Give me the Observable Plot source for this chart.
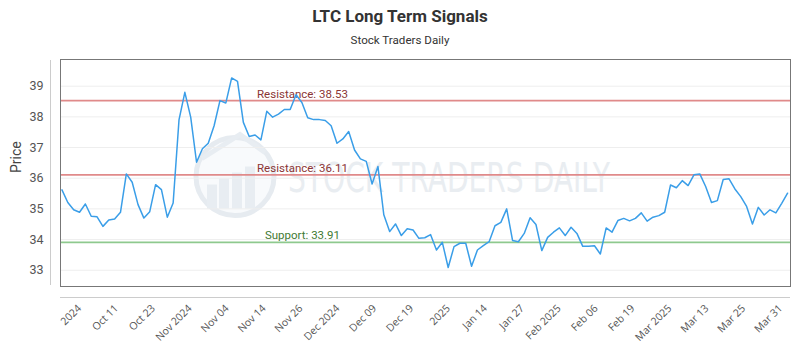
<!DOCTYPE html>
<html>
<head>
<meta charset="utf-8">
<script src="https://cdn.jsdelivr.net/npm/d3@7"></script>
<script src="https://cdn.jsdelivr.net/npm/@observablehq/plot@0.6"></script>
<style>
  body { margin: 0; background: #fff; }
  #header { position: relative; width: 800px; height: 50px; font-family: Roboto, "Noto Sans", sans-serif; color: #333; }
  #title { position: absolute; top: 5px; width: 100%; text-align: center; font-size: 17px; font-weight: bold; line-height: 22px; }
  #subtitle { position: absolute; top: 32px; width: 100%; text-align: center; font-size: 11.6px; line-height: 16px; }
</style>
</head>
<body>
<div id="header"><div id="title">LTC Long Term Signals</div><div id="subtitle">Stock Traders Daily</div></div>
<div id="chart"></div>
<script>
const prices = [
  35.62, 35.21, 34.97, 34.89, 35.16, 34.76, 34.74, 34.43, 34.64, 34.67,
  34.89, 36.14, 35.87, 35.14, 34.70, 34.91, 35.79, 35.63, 34.73, 35.19,
  37.90, 38.80, 37.99, 36.52, 36.96, 37.14, 37.71, 38.53, 38.45, 39.27,
  39.16, 37.82, 37.36, 37.41, 37.25, 38.18, 37.99, 38.09, 38.24, 38.24,
  38.72, 38.47, 37.97, 37.91, 37.91, 37.88, 37.71, 37.14, 37.28, 37.52,
  36.92, 36.63, 36.55, 35.81, 36.38, 34.81, 34.26, 34.51, 34.13, 34.35,
  34.31, 34.04, 34.06, 34.16, 33.66, 33.91, 33.09, 33.77, 33.88, 33.88,
  33.13, 33.66, 33.80, 33.93, 34.45, 34.56, 35.00, 33.97, 33.93, 34.20,
  34.71, 34.49, 33.64, 34.07, 34.24, 34.38, 34.13, 34.40, 34.20, 33.78,
  33.78, 33.80, 33.53, 34.38, 34.24, 34.62, 34.69, 34.61, 34.69, 34.87,
  34.60, 34.73, 34.78, 34.89, 35.78, 35.69, 35.92, 35.76, 36.11, 36.14,
  35.73, 35.21, 35.27, 35.96, 35.98, 35.65, 35.40, 35.08, 34.51, 35.05,
  34.80, 34.97, 34.87, 35.18, 35.51
];
const xTickLabels = ["2024", "Oct 11", "Oct 23", "Nov 2024", "Nov 04", "Nov 14", "Nov 26", "Dec 2024", "Dec 09", "Dec 19",
  "2025", "Jan 14", "Jan 27", "Feb 2025", "Feb 06", "Feb 19", "Mar 2025", "Mar 13", "Mar 25", "Mar 31"];
const yTicks = [33, 34, 35, 36, 37, 38, 39];
const levelNames = ["Resistance", "Resistance", "Support"];
const levelValues = [38.53, 36.11, 33.91];
const levelKinds = ["res", "res", "sup"];

const series = prices.map((v, i) => ({i, v}));
const levels = levelValues.map((v, k) => ({v, kind: levelKinds[k], label: `${levelNames[k]}: ${v.toFixed(2)}`}));

const tickFirst = 3, tickLast = 122.8;
const tickStep = (tickLast - tickFirst) / (xTickLabels.length - 1);
const tickPositions = xTickLabels.map((_, k) => tickFirst + k * tickStep);
const labelAt = new Map(tickPositions.map((p, k) => [p, xTickLabels[k]]));

const xDomain = [-0.25, 124.5];
const yDomain = [32.47, 39.87];
const lineColor = {res: "#e08a8a", sup: "#8ec98e"};
const textColor = {res: "#8b3535", sup: "#3f7a32"};

const chart = Plot.plot({
  width: 800,
  height: 300,
  marginLeft: 60,
  marginRight: 10,
  marginTop: 9,
  marginBottom: 64,
  style: {fontFamily: "Roboto, 'Noto Sans', sans-serif", background: "#fff"},
  x: {domain: xDomain, axis: null},
  y: {domain: yDomain, axis: null},
  marks: [
    Plot.gridY(yTicks, {stroke: "#eeeeee", strokeOpacity: 1}),
    Plot.axisY(yTicks, {tickSize: 0, tickPadding: 17, fontSize: 12.5, fill: "#555", label: null}),
    Plot.axisX(tickPositions, {tickSize: 0, tickPadding: 20, tickRotate: -45, fontSize: 10.5, fill: "#555",
      fontFamily: "'Open Sans', sans-serif", tickFormat: d => labelAt.get(d), label: null}),
    Plot.ruleX([xDomain[0]], {dx: -10, y1: yDomain[0], y2: yDomain[1], stroke: "#cccccc", insetTop: -1, insetBottom: -1}),
    Plot.ruleY([yDomain[0]], {dy: 11, x1: xDomain[0], x2: xDomain[1], stroke: "#cccccc"}),
    Plot.text(["Price"], {frameAnchor: "left", dx: -44, rotate: -90, fontSize: 14, fill: "#444"}),
    Plot.ruleY(levels, {y: "v", stroke: d => lineColor[d.kind], strokeWidth: 1.6}),
    Plot.text(levels, {x: 41.1, y: "v", text: "label", fill: d => textColor[d.kind], fontSize: 11.5, lineAnchor: "bottom", dy: -3}),
    Plot.line(series, {x: "i", y: "v", stroke: "#3a9ee8", strokeWidth: 1.5}),
    Plot.frame({stroke: "#777", strokeWidth: 1})
  ]
});

// watermark (decoration behind the data)
const svg = d3.select(chart);
const wm = svg.insert("g", ":first-child").attr("pointer-events", "none");
svg.insert("rect", ":first-child").attr("width", 800).attr("height", 300).attr("fill", "#fff");
const cx = 235, cy = 126.5;
wm.append("circle").attr("cx", cx).attr("cy", cy).attr("r", 39).attr("fill", "#f8fafc").attr("stroke", "#e6ebf0").attr("stroke-width", 5);
[[-28, 8, 24], [-16, 2, 30], [-3, -4, 36], [10, -10, 42]].forEach(([dx, dy, h]) => {
  wm.append("rect").attr("x", cx + dx).attr("y", cy + dy).attr("width", 10).attr("height", h).attr("fill", "#e8edf2");
});
wm.append("path").attr("d", `M${cx - 33},${cy - 18} L${cx + 5},${cy - 42} L${cx + 30},${cy - 24}`)
  .attr("fill", "none").attr("stroke", "#e8edf2").attr("stroke-width", 5);
wm.append("text").attr("x", 288).attr("y", 142).attr("font-size", 40).attr("text-anchor", "start")
  .attr("font-family", "'DejaVu Sans Condensed', 'Liberation Sans Narrow', sans-serif")
  .attr("textLength", 322).attr("lengthAdjust", "spacingAndGlyphs")
  .attr("fill", "#e9edf1").text("STOCK TRADERS DAILY");

document.getElementById("chart").appendChild(chart);
</script>
</body>
</html>
